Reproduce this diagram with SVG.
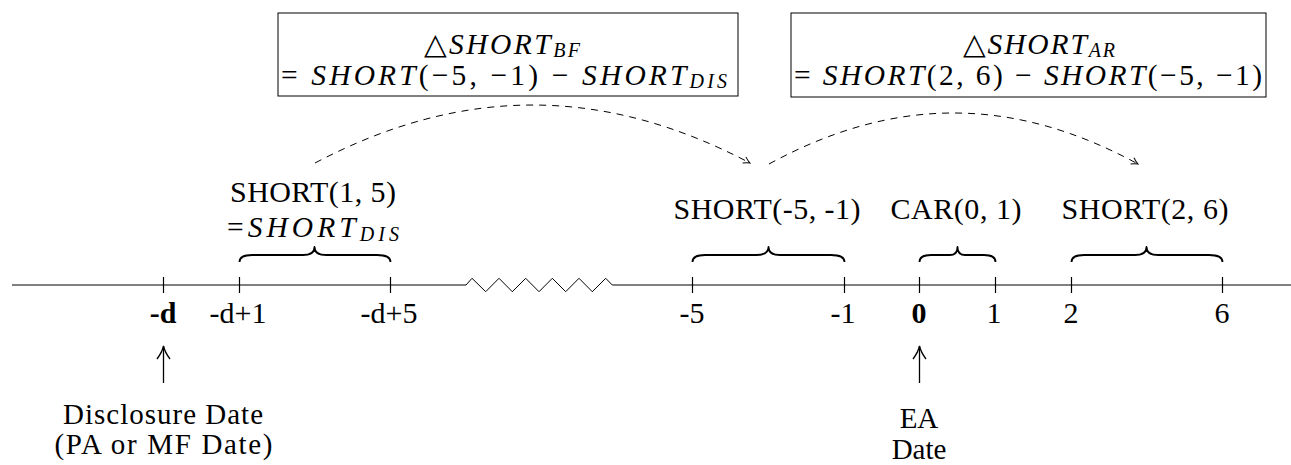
<svg xmlns="http://www.w3.org/2000/svg" width="1291" height="465" viewBox="0 0 1291 465">
<style>
.t{font-family:"Liberation Serif","DejaVu Serif",serif;font-size:30px;fill:#000;text-anchor:middle}
.s{font-size:29px}
.m{font-family:"Liberation Serif","DejaVu Serif",serif;font-size:29.5px;fill:#000}
.i{font-style:italic}
.sub{font-style:italic;font-size:20px}
.b{font-weight:bold}
.tick{stroke:#000;stroke-width:1.2;fill:none}
.brace{stroke:#000;stroke-width:1.8;fill:none;stroke-linejoin:round}
.box{fill:#fff;stroke:#000;stroke-width:1}
.dash{fill:none;stroke:#000;stroke-width:1;stroke-dasharray:7 6}
.up{fill:none;stroke:#000;stroke-width:1.3}
</style>
<defs>
<marker id="ah" viewBox="0 0 10 10" refX="9" refY="5" markerWidth="10" markerHeight="10" markerUnits="userSpaceOnUse" orient="auto">
<path d="M2.5,1.5 Q6,4 9,5 Q6,6 2.5,8.5" fill="none" stroke="#000" stroke-width="1"/>
</marker>
</defs>
<rect width="1291" height="465" fill="#fff"/>

<g id="axis">
<polyline fill="none" stroke="#000" stroke-width="1" points="12,285 466,285 472,278.3 485.7,291.7 499,278.3 512.3,291.7 525.7,278.3 539,291.7 552.3,278.3 565.7,291.7 579,278.3 592.3,291.7 605.7,278.3 612.3,285 1291,285"/>
</g>

<g id="tick-minus-d">
<line class="tick" x1="163.5" y1="277" x2="163.5" y2="293"/>
<text class="t b" x="163" y="322.5">-d</text>
</g>
<g id="tick-minus-d-plus-1">
<line class="tick" x1="239.5" y1="277" x2="239.5" y2="293"/>
<text class="t" x="238" y="322.5">-d+1</text>
</g>
<g id="tick-minus-d-plus-5">
<line class="tick" x1="390.5" y1="277" x2="390.5" y2="293"/>
<text class="t" x="389" y="322.5">-d+5</text>
</g>
<g id="tick-minus-5">
<line class="tick" x1="692.5" y1="277" x2="692.5" y2="293"/>
<text class="t" x="692" y="322.5">-5</text>
</g>
<g id="tick-minus-1">
<line class="tick" x1="844.5" y1="277" x2="844.5" y2="293"/>
<text class="t" x="843" y="322.5">-1</text>
</g>
<g id="tick-0">
<line class="tick" x1="919.5" y1="277" x2="919.5" y2="293"/>
<text class="t b" x="919" y="322.5">0</text>
</g>
<g id="tick-1">
<line class="tick" x1="995.5" y1="277" x2="995.5" y2="293"/>
<text class="t" x="994" y="322.5">1</text>
</g>
<g id="tick-2">
<line class="tick" x1="1071.5" y1="277" x2="1071.5" y2="293"/>
<text class="t" x="1071" y="322.5">2</text>
</g>
<g id="tick-6">
<line class="tick" x1="1222.5" y1="277" x2="1222.5" y2="293"/>
<text class="t" x="1222" y="322.5">6</text>
</g>

<g id="brace-short-dis">
<path class="brace" d="M239.5,262 C239.5,257 244,255 252,255 L303,255 C310,255 314.5,253 314.5,247 C314.5,253 319,255 326,255 L377,255 C385,255 390.5,257 390.5,262"/>
<text class="t" x="313" y="201.5" textLength="166">SHORT(1, 5)</text>
<text class="m" x="227" y="237.3" textLength="172">=<tspan class="i">SHORT</tspan><tspan class="sub" dy="4">DIS</tspan></text>
</g>

<g id="brace-short-m5-m1">
<path class="brace" d="M692.5,262 C692.5,257 697,255 705,255 L756,255 C763,255 768.5,253 768.5,247 C768.5,253 773,255 780,255 L831,255 C839,255 844.5,257 844.5,262"/>
<text class="t" x="767" y="219" textLength="187">SHORT(-5, -1)</text>
</g>

<g id="brace-car-0-1">
<path class="brace" d="M919.5,262 C919.5,257 924,255 931,255 L950,255 C954,255 957.5,253 957.5,247 C957.5,253 961,255 965,255 L984,255 C991,255 995.5,257 995.5,262"/>
<text class="t" x="956" y="219" textLength="131">CAR(0, 1)</text>
</g>

<g id="brace-short-2-6">
<path class="brace" d="M1071.5,262 C1071.5,257 1076,255 1084,255 L1135,255 C1142,255 1146.5,253 1146.5,247 C1146.5,253 1151,255 1158,255 L1209,255 C1217,255 1222.5,257 1222.5,262"/>
<text class="t" x="1145" y="219" textLength="167">SHORT(2, 6)</text>
</g>

<g id="box-short-bf">
<rect class="box" x="278" y="13" width="460" height="83"/>
<text class="m" x="424" y="54" textLength="156">△<tspan class="i">SHORT</tspan><tspan class="sub" dy="3">BF</tspan></text>
<text class="m" x="281" y="85" textLength="446">= <tspan class="i">SHORT</tspan>(−5, −1) − <tspan class="i">SHORT</tspan><tspan class="sub" dy="3">DIS</tspan></text>
</g>

<g id="box-short-ar">
<rect class="box" x="791" y="13" width="475" height="84"/>
<text class="m" x="963" y="54" textLength="152">△<tspan class="i">SHORT</tspan><tspan class="sub" dy="3">AR</tspan></text>
<text class="m" x="794" y="85" textLength="468">= <tspan class="i">SHORT</tspan>(2, 6) − <tspan class="i">SHORT</tspan>(−5, −1)</text>
</g>

<g id="disclosure-date">
<text class="t s" x="163" y="424" textLength="200">Disclosure Date</text>
<text class="t s" x="163.5" y="454" textLength="218">(PA or MF Date)</text>
</g>

<g id="ea-date">
<text class="t s" x="919" y="428">EA</text>
<text class="t s" x="919" y="459">Date</text>
</g>

<g id="connectors">
<path class="dash" d="M315,163 C462,85.7 603,85.7 750,163" marker-end="url(#ah)"/>
<path class="dash" d="M769,164 C894,96 1013,96 1138,164" marker-end="url(#ah)"/>
<path class="up" d="M163.5,383 V346.5"/>
<path class="up" d="M157,359 C160,355 162.5,350.5 163.5,346 C164.5,350.5 167,355 170,359"/>
<path class="up" d="M919.5,383 V346.5"/>
<path class="up" d="M913,359 C916,355 918.5,350.5 919.5,346 C920.5,350.5 923,355 926,359"/>
</g>
</svg>
